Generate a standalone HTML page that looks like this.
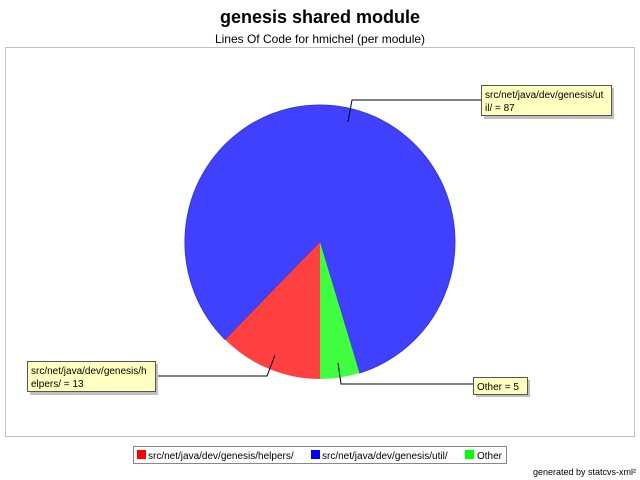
<!DOCTYPE html>
<html><head><style>body{margin:0;background:#fff}svg{display:block}text{font-family:"Liberation Sans",sans-serif}</style></head><body>
<svg width="640" height="480" viewBox="0 0 640 480">
<rect width="640" height="480" fill="#fff"/>
<text x="320" y="23" text-anchor="middle" font-size="18" font-weight="bold">genesis shared module</text>
<text x="320" y="43" text-anchor="middle" font-size="12">Lines Of Code for hmichel (per module)</text>
<rect x="5.5" y="47.5" width="629" height="389" fill="#fff" stroke="#c0c0c0"/>
<path d="M320,242 L225.2,339.6 A135,137 0 1 1 359.5,373 Z" fill="#4040ff" stroke="#3838d0" stroke-width="1"/>
<path d="M320,242 L359.5,373 A135,137 0 0 1 320,379 Z" fill="#40ff40"/>
<path d="M320,242 L320,379 A135,137 0 0 1 225.2,339.6 Z" fill="#ff4040"/>
<g stroke="#000" fill="none" stroke-width="1">
<polyline points="348,122 352,100 481,100"/>
<polyline points="275,355 267,376 157,376"/>
<polyline points="338,363 341,384 473,384"/>
</g>
<rect x="484" y="88" width="130" height="31" fill="#c0c0c0"/>
<rect x="481.5" y="85.5" width="130" height="30" fill="#ffffc0" stroke="#555"/>
<text x="485" y="98" font-size="10">src/net/java/dev/genesis/ut</text>
<text x="485" y="111" font-size="10">il/ = 87</text>
<rect x="30" y="364" width="128" height="31" fill="#c0c0c0"/>
<rect x="27.5" y="361.5" width="128" height="30" fill="#ffffc0" stroke="#555"/>
<text x="31" y="374" font-size="10">src/net/java/dev/genesis/h</text>
<text x="31" y="387" font-size="10">elpers/ = 13</text>
<rect x="476" y="380" width="54" height="17" fill="#c0c0c0"/>
<rect x="473.5" y="377.5" width="54" height="17" fill="#ffffc0" stroke="#555"/>
<text x="477" y="390" font-size="10">Other = 5</text>
<rect x="133.5" y="446.5" width="373" height="17" fill="#fff" stroke="#888"/>
<rect x="137" y="450" width="9" height="9" fill="#f00"/>
<text x="148" y="459" font-size="10">src/net/java/dev/genesis/helpers/</text>
<rect x="311" y="450" width="9" height="9" fill="#00f"/>
<text x="322" y="459" font-size="10">src/net/java/dev/genesis/util/</text>
<rect x="465" y="450" width="9" height="9" fill="#0f0"/>
<text x="477" y="459" font-size="10">Other</text>
<text x="636" y="475" text-anchor="end" font-size="9">generated by statcvs-xml²</text>
</svg>
</body></html>
